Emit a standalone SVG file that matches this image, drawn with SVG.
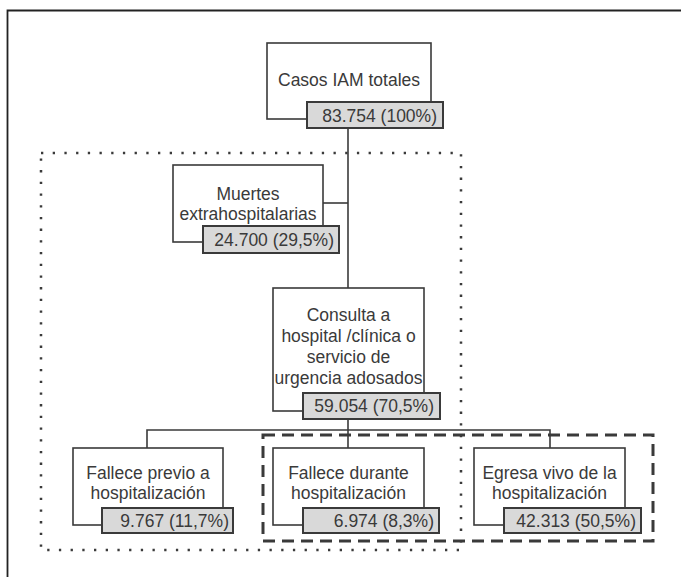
<svg xmlns="http://www.w3.org/2000/svg" width="681" height="577" viewBox="0 0 681 577">
<style>
.box{fill:#fff;stroke:#3a3a3a;stroke-width:1.6}
.lab{fill:#d9d9d9;stroke:#3a3a3a;stroke-width:2}
.t{font-family:"Liberation Sans",Arial,sans-serif;font-size:17.5px;fill:#3a3a3a;text-anchor:middle}
.n{font-family:"Liberation Sans",Arial,sans-serif;font-size:17.5px;fill:#3a3a3a;text-anchor:end}
.c{fill:none;stroke:#3a3a3a;stroke-width:1.6}
.dot{fill:none;stroke:#3a3a3a;stroke-width:2.5;stroke-dasharray:2.3 9.4}
.dash{fill:none;stroke:#3a3a3a;stroke-width:3;stroke-dasharray:12 7}
</style>
<rect width="681" height="577" fill="#fff"/>
<path d="M7.5,577 V10.5 H681" fill="none" stroke="#222" stroke-width="1.8"/>
<g id="connectors">
<path class="c" d="M348,128 V288"/>
<path class="c" d="M323,203 H348"/>
<path class="c" d="M348,419 V448"/>
<path class="c" d="M147,448 V430 H550 V448"/>
</g>
<g id="groups">
<rect class="dot" x="41" y="153" width="420" height="397"/>
<rect class="dash" x="263" y="435" width="390" height="106"/>
</g>
<g id="n-total">
<rect class="box" x="267" y="43" width="164" height="76"/>
<rect class="lab" x="307" y="102" width="136" height="26"/>
<text class="t" x="349" y="86">Casos IAM totales</text>
<text class="n" x="437" y="122">83.754 (100%)</text>
</g>
<g id="n-muertes">
<rect class="box" x="173" y="165" width="150" height="77"/>
<rect class="lab" x="203" y="226" width="136" height="27"/>
<text class="t" x="248" y="200">Muertes</text>
<text class="t" x="248" y="220">extrahospitalarias</text>
<text class="n" x="334" y="246">24.700 (29,5%)</text>
</g>
<g id="n-consulta">
<rect class="box" x="273" y="288" width="151" height="123"/>
<rect class="lab" x="303" y="393" width="137" height="26"/>
<text class="t" x="348.5" y="321">Consulta a</text>
<text class="t" x="348.5" y="342">hospital /clínica o</text>
<text class="t" x="348.5" y="363">servicio de</text>
<text class="t" x="348.5" y="384">urgencia adosados</text>
<text class="n" x="434" y="412">59.054 (70,5%)</text>
</g>
<g id="n-previo">
<rect class="box" x="73" y="448" width="150" height="77"/>
<rect class="lab" x="102" y="508" width="131" height="25"/>
<text class="t" x="148" y="479">Fallece previo a</text>
<text class="t" x="148" y="499">hospitalización</text>
<text class="n" x="229" y="527">9.767 (11,7%)</text>
</g>
<g id="n-durante">
<rect class="box" x="273" y="448" width="151" height="77"/>
<rect class="lab" x="303" y="508" width="136" height="25"/>
<text class="t" x="348.5" y="479">Fallece durante</text>
<text class="t" x="348.5" y="499">hospitalización</text>
<text class="n" x="434" y="527">6.974 (8,3%)</text>
</g>
<g id="n-egresa">
<rect class="box" x="474" y="448" width="151" height="77"/>
<rect class="lab" x="504" y="508" width="137" height="25"/>
<text class="t" x="549.5" y="479">Egresa vivo de la</text>
<text class="t" x="549.5" y="499">hospitalización</text>
<text class="n" x="636" y="527">42.313 (50,5%)</text>
</g>
</svg>
